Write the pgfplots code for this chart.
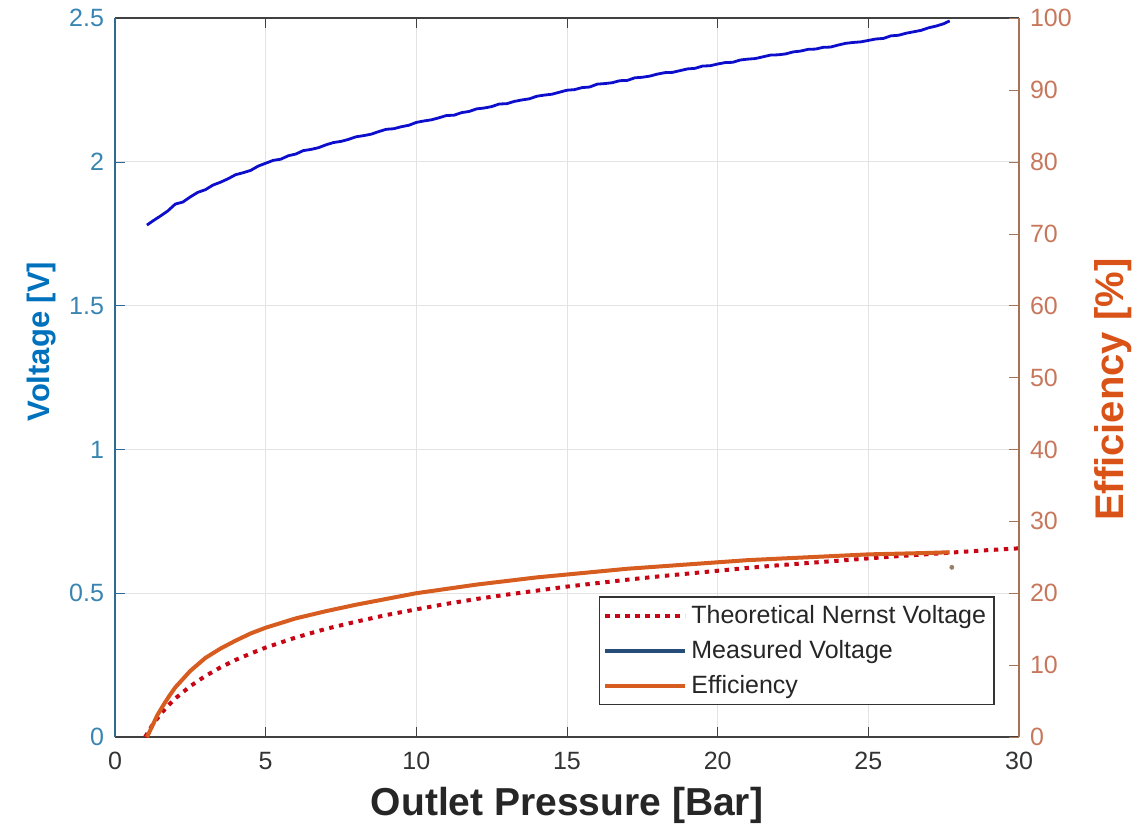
\documentclass[border=0pt]{standalone}
\usepackage{fontspec}
\setmainfont{Liberation Sans}
\usepackage{pgfplots}
\pgfplotsset{compat=1.18}
\definecolor{lblue}{rgb}{0,0.447,0.741}
\definecolor{ltick}{rgb}{0.22,0.52,0.70}
\definecolor{lspine}{rgb}{0.18,0.42,0.58}
\definecolor{rorange}{rgb}{0.85,0.325,0.098}
\definecolor{rtick}{rgb}{0.78,0.47,0.36}
\definecolor{rspine}{rgb}{0.66,0.45,0.33}
\definecolor{mblue}{rgb}{0.05,0.05,0.8}
\definecolor{legblue}{rgb}{0.15,0.3,0.48}
\definecolor{nred}{rgb}{0.78,0.02,0.08}
\definecolor{effor}{rgb}{0.84,0.36,0.12}
\begin{document}
\begin{tikzpicture}
\useasboundingbox (-57.5pt,-50pt) rectangle (515pt,368.5pt);
\begin{axis}[
  scale only axis, width=452pt, height=359.5pt,
  xmin=0, xmax=30, ymin=0, ymax=2.5,
  xtick={0,5,...,30}, ytick={0,0.5,...,2.5},
  yticklabels={0,0.5,1,1.5,2,2.5},
  axis x line*=box, axis y line*=left,
  xtick pos=both, ytick pos=left,
  tick align=inside, major tick length=5pt,
  grid=major, grid style={gray!22, line width=0.5pt},
  x axis line style={draw=black!75, line width=0.6pt},
  y axis line style={draw=lspine, line width=0.8pt},
  x tick style={black!75}, y tick style={lspine},
  /pgf/number format/assume math mode=true,
  x tick label style={font=\fontsize{12.5}{14}\selectfont, text=black!80, yshift=-4pt},
  y tick label style={font=\fontsize{12.5}{14}\selectfont, text=ltick, xshift=-2pt},
  xlabel={\textbf{Outlet Pressure [Bar]}},
  xlabel style={font=\fontsize{19.5}{22}\selectfont, text=black!85, at={(axis description cs:0.5,-0.0946)}, anchor=center},
  ylabel={\textbf{Voltage [V]}},
  ylabel style={font=\fontsize{15.5}{18}\selectfont, text=lblue, at={(axis description cs:-0.081,0.55)}, anchor=center},
]
\addplot[nred, line width=2pt, dash pattern=on 2.2pt off 2.8pt] coordinates {
(1,0) (1.25,0.043) (1.5,0.078) (1.75,0.108) (2,0.134) (2.5,0.177) (3,0.212) (3.5,0.242) (4,0.268) (4.5,0.290) (5,0.311) (6,0.346) (7,0.376) (8,0.401) (9,0.424) (10,0.444) (11,0.463) (12,0.480) (13,0.495) (14,0.509) (15,0.523) (16,0.535) (17,0.547) (18,0.558) (19,0.568) (20,0.578) (21,0.588) (22,0.597) (23,0.605) (24,0.613) (25,0.621) (26,0.629) (27,0.636) (28,0.643) (29,0.650) (30,0.656)
};
\addplot[mblue, line width=1.4pt] coordinates {
(1.06,1.780) (1.25,1.794) (1.5,1.811) (1.75,1.829) (2.0,1.853) (2.25,1.860) (2.5,1.878) (2.75,1.894) (3.0,1.903) (3.25,1.919) (3.5,1.929) (3.75,1.941) (4.0,1.955) (4.25,1.962) (4.5,1.970) (4.75,1.985) (5.0,1.995) (5.25,2.005) (5.5,2.009) (5.75,2.021) (6.0,2.027) (6.25,2.039) (6.5,2.043) (6.75,2.049) (7.0,2.059) (7.25,2.067) (7.5,2.071) (7.75,2.078) (8.0,2.087) (8.25,2.091) (8.5,2.096) (8.75,2.105) (9.0,2.113) (9.25,2.115) (9.5,2.122) (9.75,2.127) (10,2.137) (10.25,2.142) (10.5,2.146) (10.75,2.153) (11,2.161) (11.25,2.162) (11.5,2.171) (11.75,2.175) (12,2.184) (12.25,2.187) (12.5,2.192) (12.75,2.201) (13,2.202) (13.25,2.210) (13.5,2.215) (13.75,2.219) (14,2.228) (14.25,2.232) (14.5,2.235) (14.75,2.242) (15,2.249) (15.25,2.251) (15.5,2.258) (15.75,2.260) (16,2.270) (16.25,2.272) (16.5,2.275) (16.75,2.282) (17,2.283) (17.25,2.292) (17.5,2.294) (17.75,2.298) (18,2.305) (18.25,2.310) (18.5,2.311) (18.75,2.317) (19,2.323) (19.25,2.325) (19.5,2.333) (19.75,2.334) (20,2.340) (20.25,2.345) (20.5,2.346) (20.75,2.354) (21,2.357) (21.25,2.359) (21.5,2.365) (21.75,2.371) (22,2.372) (22.25,2.375) (22.5,2.382) (22.75,2.385) (23,2.391) (23.25,2.392) (23.5,2.398) (23.75,2.399) (24,2.406) (24.25,2.412) (24.5,2.415) (24.75,2.417) (25,2.422) (25.25,2.427) (25.5,2.429) (25.75,2.438) (26,2.440) (26.25,2.447) (26.5,2.452) (26.75,2.457) (27,2.466) (27.25,2.472) (27.5,2.480) (27.7,2.490)
};
\end{axis}
\begin{axis}[
  scale only axis, width=452pt, height=359.5pt,
  xmin=0, xmax=30, ymin=0, ymax=100,
  axis x line=none, axis y line*=right,
  ytick={0,10,...,100},
  tick align=inside, major tick length=5pt,
  y axis line style={draw=rspine, line width=0.8pt},
  y tick style={rspine},
  /pgf/number format/assume math mode=true,
  y tick label style={font=\fontsize{12.5}{14}\selectfont, text=rtick, xshift=2pt},
  ylabel={\textbf{Efficiency [\%]}},
  ylabel style={font=\fontsize{20}{24}\selectfont, text=rorange, at={(axis description cs:1.104,0.483)}, anchor=center},
  legend style={at={(0.973,0.0445)}, anchor=south east, draw=black!80, fill=white, line width=0.6pt,
    font=\fontsize{12.5}{15}\selectfont, text=black!85, row sep=3pt, inner sep=2pt,
    legend cell align=left},
  legend image code/.code={\draw[#1] (0pt,0pt) -- (40pt,0pt);},
]
\addlegendimage{nred, line width=2pt, dash pattern=on 2.2pt off 2.8pt}
\addlegendentry{Theoretical Nernst Voltage}
\addlegendimage{legblue, line width=2pt}
\addlegendentry{Measured Voltage}
\addplot[effor, line width=2pt] coordinates {
(1.06,0) (1.2,1.2) (1.4,3.0) (1.6,4.4) (1.8,5.7) (2.0,6.9) (2.5,9.2) (3.0,11.0) (3.5,12.3) (4.0,13.4) (4.5,14.4) (5.0,15.2) (6,16.5) (7,17.5) (8,18.4) (9,19.2) (10,20.0) (11,20.6) (12,21.2) (13,21.7) (14,22.2) (15,22.6) (16,23.0) (17,23.4) (18,23.7) (19,24.0) (20,24.3) (21,24.6) (22,24.8) (23,25.0) (24,25.2) (25,25.4) (26,25.5) (27,25.6) (27.7,25.7)
};
\addlegendentry{Efficiency}
\addplot[only marks, mark=*, mark size=1pt, color=gray!80!orange, forget plot] coordinates {(27.77,23.6)};
\end{axis}
\end{tikzpicture}
\end{document}
